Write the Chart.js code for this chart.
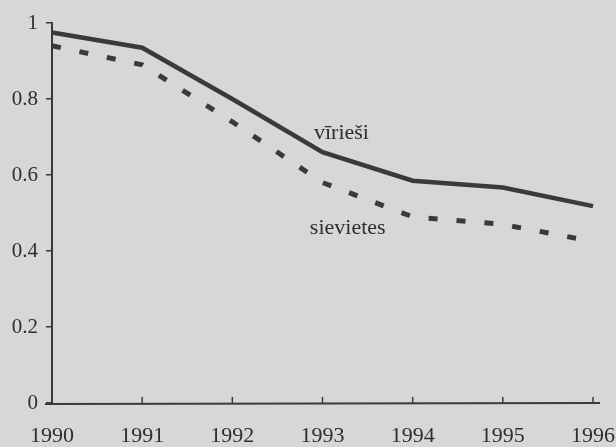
<!DOCTYPE html>
<html>
<head>
<meta charset="utf-8">
<script src="https://cdn.jsdelivr.net/npm/chart.js@4/dist/chart.umd.min.js"></script>
<style>
    html, body { margin: 0; padding: 0; background: #d7d7d7; }
    #wrap { width: 616px; height: 447px; }
</style>
</head>
<body>
<div id="wrap"><canvas id="chart" width="616" height="447"></canvas></div>
<script>
// Dati
const years = ['1990', '1991', '1992', '1993', '1994', '1995', '1996'];
const viriesi = [0.975, 0.935, 0.80, 0.66, 0.585, 0.567, 0.518];
const sievietes = [0.94, 0.89, 0.74, 0.58, 0.49, 0.47, 0.425];
const yTicks = [0, 0.2, 0.4, 0.6, 0.8, 1];
const seriesNames = ['vīrieši', 'sievietes'];

const ink = '#3a3a3a';
const textInk = '#2e2e2e';
const serif = '"Liberation Serif", "DejaVu Serif", serif';

// uzraksti pie līnijām (pozīcija skalas vienībās)
const nameSpots = [{ x: 3.21, y: 0.71 }, { x: 3.28, y: 0.46 }];

const lineNames = {
    id: 'lineNames',
    afterDatasetsDraw(chart) {
        const ctx = chart.ctx;
        const xs = chart.scales.x, ys = chart.scales.y;
        ctx.save();
        ctx.fillStyle = textInk;
        ctx.font = '22px ' + serif;
        ctx.textAlign = 'center';
        ctx.textBaseline = 'middle';
        seriesNames.forEach((name, i) => {
            ctx.fillText(name, xs.getPixelForValue(nameSpots[i].x), ys.getPixelForValue(nameSpots[i].y));
        });
        ctx.restore();
    }
};

// x ass ieskalas uz augšu
const upTicks = {
    id: 'upTicks',
    afterDraw(chart) {
        const ctx = chart.ctx;
        const xs = chart.scales.x;
        const base = chart.scales.y.getPixelForValue(0);
        ctx.save();
        ctx.strokeStyle = ink;
        ctx.lineWidth = 1.5;
        xs.ticks.forEach((t, i) => {
            if (i === 0) return;
            const px = xs.getPixelForTick(i);
            ctx.beginPath();
            ctx.moveTo(px, base);
            ctx.lineTo(px, base - 6);
            ctx.stroke();
        });
        // ass pagarinājums pa kreisi un pa labi
        ctx.lineWidth = 2;
        ctx.beginPath();
        ctx.moveTo(chart.chartArea.left - 7, base + 1);
        ctx.lineTo(chart.chartArea.right + 7, base);
        ctx.stroke();
        ctx.restore();
    }
};

new Chart(document.getElementById('chart'), {
    type: 'line',
    data: {
        labels: years,
        datasets: [{
            label: seriesNames[0],
            data: viriesi,
            borderColor: ink,
            borderWidth: 4.5,
            pointRadius: 0,
            tension: 0,
            fill: false
        }, {
            label: seriesNames[1],
            data: sievietes,
            borderColor: ink,
            borderWidth: 5,
            borderDash: [9, 19],
            borderCapStyle: 'butt',
            pointRadius: 0,
            tension: 0,
            fill: false
        }]
    },
    options: {
        responsive: false,
        animation: false,
        layout: { padding: { top: 23, right: 23, left: 0, bottom: 0 } },
        plugins: { legend: { display: false }, tooltip: { enabled: false } },
        scales: {
            x: {
                offset: false,
                grid: { display: false, drawTicks: false },
                border: { display: false },
                ticks: {
                    color: textInk,
                    font: { family: serif, size: 22 },
                    padding: 20,
                    maxRotation: 0,
                    autoSkip: false
                },
                afterFit(scale) {
                    scale.height = 44;
                    scale.paddingLeft = 0;
                    scale.paddingRight = 0;
                }
            },
            y: {
                min: 0,
                max: 1,
                afterBuildTicks(scale) { scale.ticks = yTicks.map(v => ({ value: v })); },
                grid: { drawOnChartArea: false, tickLength: 6, color: ink, lineWidth: 1.5 },
                border: { display: true, color: ink, width: 2 },
                ticks: {
                    color: textInk,
                    font: { family: serif, size: 21 },
                    padding: 8,
                    callback: v => String(v)
                },
                afterFit(scale) {
                    scale.width = 52;
                    scale.paddingTop = 0;
                    scale.paddingBottom = 0;
                }
            }
        }
    },
    plugins: [lineNames, upTicks]
});
</script>
</body>
</html>
